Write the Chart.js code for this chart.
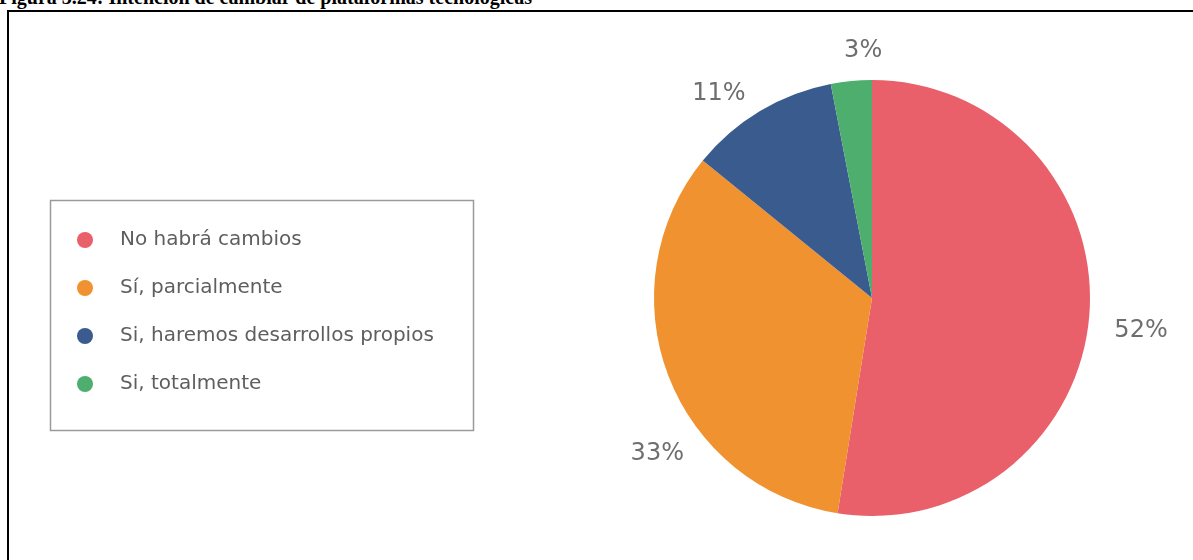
<!DOCTYPE html>
<html>
<head>
<meta charset="utf-8">
<script src="https://cdn.jsdelivr.net/npm/chart.js@4.4.1/dist/chart.umd.min.js"></script>
<style>
  html, body { margin: 0; padding: 0; background: #fff; }
  #wrap { position: relative; width: 1193px; height: 560px; overflow: hidden; }
  #title {
    position: absolute; left: -1px; top: -13px; white-space: nowrap;
    font: bold 20px/20px "Liberation Serif", "Times New Roman", serif; color: #000;
  }
  #frame {
    position: absolute; left: 7px; top: 10px; right: -10px; bottom: -10px;
    border-top: 2px solid #000; border-left: 2px solid #000;
  }
  #myChart { position: absolute; left: 0; top: 0; }
</style>
</head>
<body>
<div id="wrap">
  <div id="title">Figura 3.24: Intención de cambiar de plataformas tecnológicas</div>
  <div id="frame"></div>
  <canvas id="myChart" width="1193" height="560"></canvas>
</div>
<script>
const labels = ['No habrá cambios', 'Sí, parcialmente', 'Si, haremos desarrollos propios', 'Si, totalmente']
const values = [52, 33, 11, 3]
const colors = ['#E9606A', '#F0922F', '#3A5B8E', '#4DAE6D']

// where each % label sits: distance (x radius) and nudge from the slice middle (degrees)
const labelDist = [1.243, 1.216, 1.17, 1.133]
const labelShift = [2.3, -15, -6, 3.4]

const pctLabels = {
  id: 'pctLabels',
  afterDatasetsDraw(chart) {
    const ctx = chart.ctx
    const meta = chart.getDatasetMeta(0)
    ctx.save()
    ctx.font = '24px "DejaVu Sans"'
    ctx.fillStyle = '#6e6e6e'
    ctx.textAlign = 'center'
    ctx.textBaseline = 'middle'
    meta.data.forEach((arc, i) => {
      const p = arc.getProps(['x', 'y', 'startAngle', 'endAngle', 'outerRadius'], true)
      const a = (p.startAngle + p.endAngle) / 2 + labelShift[i] * Math.PI / 180
      const r = p.outerRadius * labelDist[i]
      ctx.fillText(values[i] + '%', p.x + Math.cos(a) * r, p.y + Math.sin(a) * r)
    })
    ctx.restore()
  }
}

const boxLegend = {
  id: 'boxLegend',
  afterDraw(chart) {
    const ctx = chart.ctx
    ctx.save()
    ctx.strokeStyle = '#9a9a9a'
    ctx.lineWidth = 1.5
    ctx.strokeRect(50.5, 200.5, 423, 230)
    ctx.font = '20px "DejaVu Sans"'
    ctx.textBaseline = 'middle'
    chart.data.labels.forEach((text, i) => {
      const y = 240 + i * 48
      ctx.fillStyle = chart.data.datasets[0].backgroundColor[i]
      ctx.beginPath()
      ctx.arc(85, y, 8, 0, Math.PI * 2)
      ctx.fill()
      ctx.fillStyle = '#5e5e5e'
      ctx.fillText(text, 120, y)
    })
    ctx.restore()
  }
}

const ctx = document.getElementById('myChart')

new Chart(ctx, {
  type: 'pie',
  data: {
    labels: labels,
    datasets: [{
      data: values,
      backgroundColor: colors,
      borderWidth: 0,
      radius: 218
    }]
  },
  options: {
    responsive: false,
    animation: false,
    layout: {
      padding: { left: 571, right: 20, top: 40, bottom: 4 }
    },
    plugins: {
      legend: { display: false },
      tooltip: { enabled: false }
    }
  },
  plugins: [pctLabels, boxLegend]
});
</script>
</body>
</html>
